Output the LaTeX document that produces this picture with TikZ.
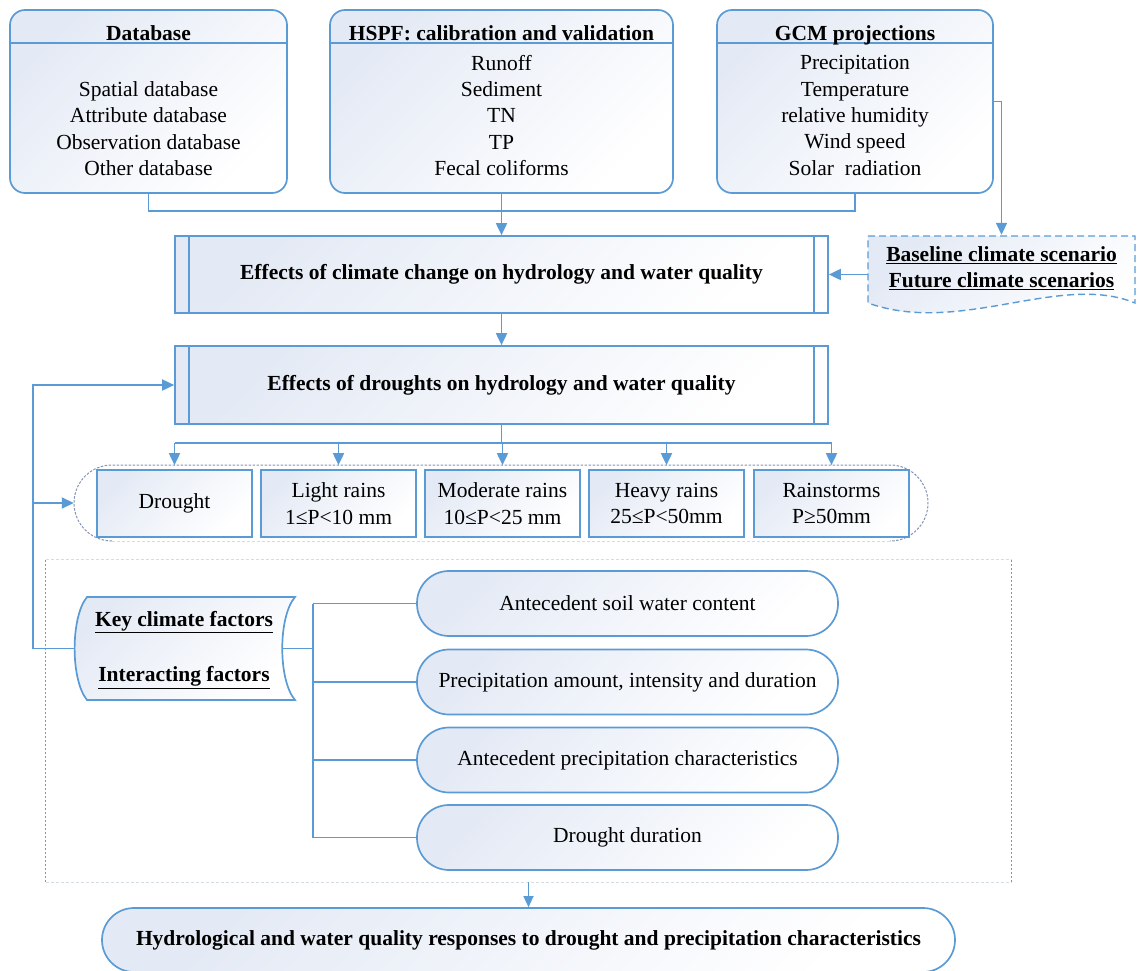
\documentclass[tikz,border=0pt]{standalone}
\usepackage{fontspec}
\setmainfont{Liberation Serif}
\usetikzlibrary{arrows.meta,calc}
\definecolor{lc}{HTML}{5B9BD5}
\definecolor{fc}{HTML}{E4EAF5}
\definecolor{dc}{HTML}{8494B4}
\definecolor{dl}{HTML}{D6DCE6}
\begin{document}
\begin{tikzpicture}[x=1pt,y=-1pt,
  font=\fontsize{21.5}{26.3}\selectfont,
  grad/.style={top color=fc, bottom color=white, shading angle=45},
  bd/.style={draw=lc, line width=1.7pt},
  topbox/.style={bd, grad, rounded corners=15pt, minimum height=183pt, inner sep=0pt},
  ttl/.style={font=\fontsize{21.5}{26.3}\selectfont\bfseries, anchor=base, inner sep=0pt},
  lst/.style={align=center, inner sep=0pt},
  proc/.style={bd, grad, minimum width=653pt, inner sep=0pt, font=\fontsize{21.5}{26.3}\selectfont\bfseries},
  rbox/.style={bd, grad, minimum width=155pt, minimum height=67pt, inner sep=0pt, align=center},
  pill/.style={bd, grad, rounded corners=32pt, minimum width=421pt, minimum height=65pt, inner sep=0pt},
  ln/.style={draw=lc, line width=1.8pt},
  arr/.style={ln, -{Triangle[length=12pt,width=11pt]}},
  dk/.style={draw=dc, line width=1pt, dash pattern=on 2.5pt off 1.5pt},
  lt/.style={draw=dl, line width=1pt, dash pattern=on 3pt off 2pt}
]
\useasboundingbox (0,0) rectangle (1141,971);

% ---------- top boxes ----------
\node[topbox, minimum width=277pt] (db) at (148.5,101.5) {};
\node[topbox, minimum width=343pt] (hspf) at (501.5,101.5) {};
\node[topbox, minimum width=276pt] (gcm) at (855,101.5) {};
\coordinate (hl) at (0,43);
\draw[bd] (db.west |- hl) -- (db.east |- hl);
\draw[bd] (hspf.west |- hl) -- (hspf.east |- hl);
\draw[bd] (gcm.west |- hl) -- (gcm.east |- hl);
\node[ttl] (dbt) at (148.5,41) {Database};
\node[ttl] (hspft) at (501.5,41) {HSPF: calibration and validation};
\node[ttl] (gcmt) at (855,41) {GCM projections};
\node[lst] (dbl) at (148.5,128.5) {Spatial database\\Attribute database\\Observation database\\Other database};
\node[lst] (hspfl) at (501.5,115.5) {Runoff\\Sediment\\TN\\TP\\Fecal coliforms};
\node[lst] (gcml) at (855,115.5) {Precipitation\\Temperature\\relative humidity\\Wind speed\\Solar\ \ radiation};

% ---------- process boxes ----------
\node[proc, minimum height=77pt] (eff1) at (501.5,274.5) {Effects of climate change on hydrology and water quality};
\node[proc, minimum height=78pt] (eff2) at (501.5,385) {Effects of droughts on hydrology and water quality};
\foreach \b in {eff1,eff2}{
  \draw[bd] ($(\b.north west)+(15,0)$) -- ($(\b.south west)+(15,0)$);
  \draw[bd] ($(\b.north east)+(-15,0)$) -- ($(\b.south east)+(-15,0)$);
}

% ---------- document shape ----------
\path[draw=lc, line width=1.4pt, dash pattern=on 7pt off 4pt, grad]
  (868,236) -- (1135,236) -- (1135,303)
  .. controls (1060,272) and (960,336) .. (868,303) -- cycle;
\node[minimum width=267pt, minimum height=66pt, inner sep=0pt, align=center,
      font=\fontsize{21.5}{26.3}\selectfont\bfseries] (doc) at (1001.5,268)
  {\underline{Baseline climate scenario}\\\underline{Future climate scenarios}};

% ---------- connectors top ----------
\coordinate (jb) at (0,211);
\draw[ln] (db.south) -- (db.south |- jb) -| (gcm.south);
\draw[arr] (hspf.south) -- (eff1.north);
\draw[arr] (gcm.east) -| (doc.north);
\draw[arr] (doc.west |- eff1.east) -- (eff1.east);
\draw[arr] (eff1.south) -- (eff2.north);

% ---------- rain group ----------
\node[minimum width=854pt, minimum height=76pt, inner sep=0pt] (grp) at (501,503) {};
\draw[dk, rounded corners=38pt] (112,541) -- (74,541) -- (74,465) -- (928,465) -- (928,541) -- (890,541);
\draw[lt] (112,541) -- (890,541);
\node[rbox] (drought) at (174.5,503.5) {Drought};
\node[rbox] (light) at (338.5,503.5) {Light rains\\1≤P<10 mm};
\node[rbox] (moder) at (502.5,503.5) {Moderate rains\\10≤P<25 mm};
\node[rbox] (heavy) at (666.5,503.5) {Heavy rains\\25≤P<50mm};
\node[rbox] (storm) at (831.5,503.5) {Rainstorms\\P≥50mm};
\coordinate (bus) at (501.5,443);
\draw[ln] (eff2.south) -- (bus);
\draw[ln] (drought.north |- bus) -- (storm.north |- bus);
\foreach \b in {drought,light,moder,heavy,storm}{
  \draw[arr, shorten >=4pt] (\b.north |- bus) -- (\b.north);
}

% ---------- factors block ----------
\node[minimum width=965pt, minimum height=322pt, inner sep=0pt] (bigbox) at (528.5,721) {};
\draw[dk] (bigbox.north west) -- (bigbox.south west);
\draw[dk] (bigbox.north east) -- (bigbox.south east);
\draw[lt] (bigbox.north west) -- (bigbox.north east);
\draw[lt] (bigbox.south west) -- (bigbox.south east);

\path[bd, grad] (87,597) -- (295,597) .. controls (278,617) and (278,680) .. (295,700)
  -- (87,700) .. controls (70.5,680) and (70.5,617) .. (87,597) -- cycle;
\node[minimum width=208pt, minimum height=103pt, inner sep=0pt] (keyf) at (178,648.5) {};
\node[align=center, inner sep=0pt, font=\fontsize{21.5}{26.3}\selectfont\bfseries] (keyft) at (184,650)
  {\underline{Key climate factors}\\[29pt]\underline{Interacting factors}};

\node[pill] (p1) at (627.5,603.5) {Antecedent soil water content};
\node[pill] (p2) at (627.5,682) {Precipitation amount, intensity and duration};
\node[pill] (p3) at (627.5,760) {Antecedent precipitation characteristics};
\node[pill] (p4) at (627.5,837.5) {Drought duration};

\coordinate (tr) at (313,0);
\draw[ln] (keyf.east) -- (tr |- keyf.east);
\draw[ln] (tr |- p1.west) -- (tr |- p4.west);
\foreach \p in {p1,p2,p3,p4}{ \draw[ln] (tr |- \p.west) -- (\p.west); }

% feedback
\coordinate (fb) at (33,0);
\draw[arr] (keyf.west) -- (fb |- keyf.west) |- (eff2.west);
\draw[arr] (fb |- grp.west) -- (grp.west);

% ---------- bottom ----------
\node[pill, minimum width=853pt, minimum height=64pt, font=\fontsize{21.5}{26.3}\selectfont\bfseries] (resp) at (528.5,940)
  {Hydrological and water quality responses to drought and precipitation characteristics};
\draw[draw=lc, line width=1.3pt, -{Triangle[length=11pt,width=10pt]}] (bigbox.south) -- (resp.north);
\end{tikzpicture}
\end{document}
